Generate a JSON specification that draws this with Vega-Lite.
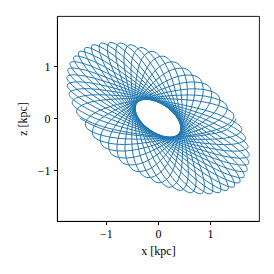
{
"$schema": "https://vega.github.io/schema/vega-lite/v6.json",
"autosize": {"type": "none"},
"padding": {"left": 57, "top": 16, "right": 15, "bottom": 53},
"width": 202,
"height": 205,
"background": "white",
"config": {"view": {"stroke": "black", "strokeWidth": 0.9}},
"data": {"values": [
{"i":0,"x":-1.501,"z":0.002},{"i":1,"x":-0.901,"z":-0.255},
{"i":2,"x":0.249,"z":-0.362},{"i":3,"x":1.195,"z":-0.194},{"i":4,"x":1.441,"z":0.089},{"i":5,"x":0.843,"z":0.319},
{"i":6,"x":-0.271,"z":0.360},{"i":7,"x":-1.165,"z":0.128},{"i":8,"x":-1.376,"z":-0.180},{"i":9,"x":-0.781,"z":-0.382},
{"i":10,"x":0.292,"z":-0.357},{"i":11,"x":1.129,"z":-0.061},{"i":12,"x":1.305,"z":0.270},{"i":13,"x":0.716,"z":0.443},
{"i":14,"x":-0.312,"z":0.352},{"i":15,"x":-1.090,"z":-0.005},{"i":16,"x":-1.229,"z":-0.359},{"i":17,"x":-0.648,"z":-0.503},
{"i":18,"x":0.331,"z":-0.345},{"i":19,"x":1.046,"z":0.072},{"i":20,"x":1.148,"z":0.447},{"i":21,"x":0.577,"z":0.560},
{"i":22,"x":-0.348,"z":0.338},{"i":23,"x":-0.998,"z":-0.138},{"i":24,"x":-1.062,"z":-0.533},{"i":25,"x":-0.505,"z":-0.616},
{"i":26,"x":0.364,"z":-0.329},{"i":27,"x":0.945,"z":0.204},{"i":28,"x":0.973,"z":0.617},{"i":29,"x":0.430,"z":0.669},
{"i":30,"x":-0.379,"z":0.318},{"i":31,"x":-0.890,"z":-0.268},{"i":32,"x":-0.879,"z":-0.698},{"i":33,"x":-0.354,"z":-0.719},
{"i":34,"x":0.392,"z":-0.307},{"i":35,"x":0.830,"z":0.332},{"i":36,"x":0.782,"z":0.777},{"i":37,"x":0.276,"z":0.766},
{"i":38,"x":-0.403,"z":0.294},{"i":39,"x":-0.768,"z":-0.395},{"i":40,"x":-0.682,"z":-0.853},{"i":41,"x":-0.197,"z":-0.811},
{"i":42,"x":0.413,"z":-0.280},{"i":43,"x":0.702,"z":0.456},{"i":44,"x":0.579,"z":0.925},{"i":45,"x":0.117,"z":0.852},
{"i":46,"x":-0.422,"z":0.265},{"i":47,"x":-0.634,"z":-0.515},{"i":48,"x":-0.474,"z":-0.994},{"i":49,"x":-0.037,"z":-0.890},
{"i":50,"x":0.428,"z":-0.249},{"i":51,"x":0.563,"z":0.572},{"i":52,"x":0.367,"z":1.058},{"i":53,"x":-0.043,"z":0.924},
{"i":54,"x":-0.433,"z":0.232},{"i":55,"x":-0.490,"z":-0.627},{"i":56,"x":-0.259,"z":-1.119},{"i":57,"x":0.123,"z":-0.955},
{"i":58,"x":0.436,"z":-0.214},{"i":59,"x":0.414,"z":0.679},{"i":60,"x":0.150,"z":1.175},{"i":61,"x":-0.203,"z":0.982},
{"i":62,"x":-0.438,"z":0.195},{"i":63,"x":-0.338,"z":-0.729},{"i":64,"x":-0.040,"z":-1.226},{"i":65,"x":0.282,"z":-1.005},
{"i":66,"x":0.438,"z":-0.175},{"i":67,"x":0.260,"z":0.776},{"i":68,"x":-0.070,"z":1.273},{"i":69,"x":-0.359,"z":1.024},
{"i":70,"x":-0.436,"z":0.155},{"i":71,"x":-0.181,"z":-0.820},{"i":72,"x":0.180,"z":-1.315},{"i":73,"x":0.436,"z":-1.039},
{"i":74,"x":0.432,"z":-0.134},{"i":75,"x":0.101,"z":0.860},{"i":76,"x":-0.289,"z":1.351},{"i":77,"x":-0.510,"z":1.050},
{"i":78,"x":-0.427,"z":0.113},{"i":79,"x":-0.021,"z":-0.897},{"i":80,"x":0.397,"z":-1.382},{"i":81,"x":0.583,"z":-1.057},
{"i":82,"x":0.420,"z":-0.091},{"i":83,"x":-0.060,"z":0.931},{"i":84,"x":-0.504,"z":1.408},{"i":85,"x":-0.653,"z":1.060},
{"i":86,"x":-0.411,"z":0.069},{"i":87,"x":0.140,"z":-0.961},{"i":88,"x":0.608,"z":-1.428},{"i":89,"x":0.721,"z":-1.058},
{"i":90,"x":0.400,"z":-0.046},{"i":91,"x":-0.219,"z":0.987},{"i":92,"x":-0.710,"z":1.442},{"i":93,"x":-0.785,"z":1.052},
{"i":94,"x":-0.389,"z":0.023},{"i":95,"x":0.298,"z":-1.009},{"i":96,"x":0.809,"z":-1.451},{"i":97,"x":0.847,"z":-1.042},
{"i":98,"x":0.375,"z":-0.001},{"i":99,"x":-0.375,"z":1.028},{"i":100,"x":-0.905,"z":1.454},{"i":101,"x":-0.905,"z":1.028},
{"i":102,"x":-0.360,"z":-0.022},{"i":103,"x":0.451,"z":-1.042},{"i":104,"x":0.998,"z":-1.451},{"i":105,"x":0.960,"z":-1.010},
{"i":106,"x":0.344,"z":0.045},{"i":107,"x":-0.525,"z":1.052},{"i":108,"x":-1.087,"z":1.443},{"i":109,"x":-1.011,"z":0.988},
{"i":110,"x":-0.326,"z":-0.067},{"i":111,"x":0.597,"z":-1.058},{"i":112,"x":1.171,"z":-1.429},{"i":113,"x":1.058,"z":-0.962},
{"i":114,"x":0.307,"z":0.090},{"i":115,"x":-0.667,"z":1.060},{"i":116,"x":-1.250,"z":1.409},{"i":117,"x":-1.101,"z":0.933},
{"i":118,"x":-0.287,"z":-0.112},{"i":119,"x":0.734,"z":-1.057},{"i":120,"x":1.325,"z":-1.384},{"i":121,"x":1.140,"z":-0.899},
{"i":122,"x":0.265,"z":0.133},{"i":123,"x":-0.798,"z":1.051},{"i":124,"x":-1.394,"z":1.353},{"i":125,"x":-1.174,"z":0.862},
{"i":126,"x":-0.243,"z":-0.154},{"i":127,"x":0.860,"z":-1.040},{"i":128,"x":1.458,"z":-1.317},{"i":129,"x":1.203,"z":-0.822},
{"i":130,"x":0.220,"z":0.174},{"i":131,"x":-0.917,"z":1.025},{"i":132,"x":-1.517,"z":1.275},{"i":133,"x":-1.228,"z":0.778},
{"i":134,"x":-0.195,"z":-0.194},{"i":135,"x":0.971,"z":-1.006},{"i":136,"x":1.569,"z":-1.229},{"i":137,"x":1.247,"z":-0.732},
{"i":138,"x":0.170,"z":0.213},{"i":139,"x":-1.021,"z":0.983},{"i":140,"x":-1.615,"z":1.178},{"i":141,"x":-1.262,"z":0.682},
{"i":142,"x":-0.145,"z":-0.231},{"i":143,"x":1.067,"z":-0.957},{"i":144,"x":1.654,"z":-1.122},{"i":145,"x":1.272,"z":-0.630},
{"i":146,"x":0.119,"z":0.248},{"i":147,"x":-1.110,"z":0.926},{"i":148,"x":-1.688,"z":1.062},{"i":149,"x":-1.277,"z":0.575},
{"i":150,"x":-0.092,"z":-0.264},{"i":151,"x":1.147,"z":-0.892},{"i":152,"x":1.714,"z":-0.997},{"i":153,"x":1.277,"z":-0.518},
{"i":154,"x":0.065,"z":0.279},{"i":155,"x":-1.180,"z":0.854},{"i":156,"x":-1.734,"z":0.929},{"i":157,"x":-1.272,"z":0.459},
{"i":158,"x":-0.037,"z":-0.293},{"i":159,"x":1.208,"z":-0.813},{"i":160,"x":1.747,"z":-0.857},{"i":161,"x":1.261,"z":-0.398},
{"i":162,"x":0.010,"z":0.306},{"i":163,"x":-1.232,"z":0.769},{"i":164,"x":-1.752,"z":0.781},{"i":165,"x":-1.246,"z":0.336},
{"i":166,"x":0.018,"z":-0.318},{"i":167,"x":1.251,"z":-0.722},{"i":168,"x":1.752,"z":-0.703},{"i":169,"x":1.226,"z":-0.272},
{"i":170,"x":-0.045,"z":0.328},{"i":171,"x":-1.265,"z":0.672},{"i":172,"x":-1.744,"z":0.621},{"i":173,"x":-1.201,"z":0.207},
{"i":174,"x":0.072,"z":-0.337},{"i":175,"x":1.274,"z":-0.619},{"i":176,"x":1.729,"z":-0.538},{"i":177,"x":1.171,"z":-0.142},
{"i":178,"x":-0.099,"z":0.345},{"i":179,"x":-1.278,"z":0.563},{"i":180,"x":-1.707,"z":0.452},{"i":181,"x":-1.137,"z":0.075},
{"i":182,"x":0.126,"z":-0.351},{"i":183,"x":1.276,"z":-0.506},{"i":184,"x":1.679,"z":-0.364},{"i":185,"x":1.098,"z":-0.009},
{"i":186,"x":-0.152,"z":0.356},{"i":187,"x":-1.270,"z":0.447},{"i":188,"x":-1.644,"z":0.275},{"i":189,"x":-1.055,"z":-0.058},
{"i":190,"x":0.177,"z":-0.360},{"i":191,"x":1.259,"z":-0.385},{"i":192,"x":1.603,"z":-0.185},{"i":193,"x":1.008,"z":0.124},
{"i":194,"x":-0.202,"z":0.362},{"i":195,"x":-1.242,"z":0.322},{"i":196,"x":-1.555,"z":0.094},{"i":197,"x":-0.956,"z":-0.190},
{"i":198,"x":0.226,"z":-0.363},{"i":199,"x":1.221,"z":-0.258},{"i":200,"x":1.501,"z":-0.002}
]},
"mark": {"type": "line", "interpolate": "cardinal", "color": "#1f77b4", "strokeWidth": 1, "clip": true},
"encoding": {
"x": {"field": "x", "type": "quantitative", "scale": {"domain": [-1.94, 1.94], "nice": false, "zero": false},
"axis": {"title": "x [kpc]", "values": [-1, 0, 1], "grid": false, "domainColor": "black", "tickColor": "black", "tickSize": 3.5, "labelPadding": 3.5, "labelFont": "Liberation Serif", "labelFontSize": 12, "labelColor": "black", "titleFont": "Liberation Serif", "titleFontSize": 12, "titleFontWeight": "normal", "titleColor": "black", "titlePadding": 6}},
"y": {"field": "z", "type": "quantitative", "scale": {"domain": [-1.97, 1.96], "nice": false, "zero": false},
"axis": {"title": "z [kpc]", "values": [-1, 0, 1], "grid": false, "domainColor": "black", "tickColor": "black", "tickSize": 3.5, "labelPadding": 3.5, "labelFont": "Liberation Serif", "labelFontSize": 12, "labelColor": "black", "titleFont": "Liberation Serif", "titleFontSize": 12, "titleFontWeight": "normal", "titleColor": "black", "titlePadding": 8}},
"order": {"field": "i", "type": "quantitative"}
}
}
